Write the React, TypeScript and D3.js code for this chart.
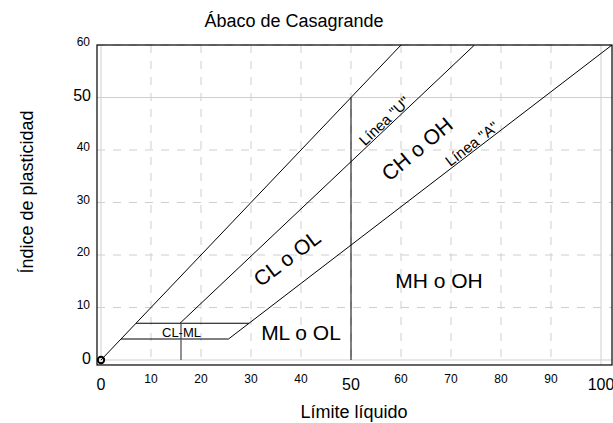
import * as d3 from "d3";

// ticks and grid
const xTicks = [0, 10, 20, 30, 40, 50, 60, 70, 80, 90, 100];
const yTicks = [0, 10, 20, 30, 40, 50, 60];
const bigX = [0, 50, 100];
const bigY = [0, 50];
const solidX = [0, 100];
const solidY = [0, 50];

// boundary lines of the chart (liquid limit, plasticity index)
const lineLeft: [number, number][] = [[0, 0], [60, 60]];
const lineU: [number, number][] = [[15.8, 7], [74.7, 60]];
const lineA: [number, number][] = [[25.5, 4], [102.2, 60]];
const line50: [number, number][] = [[50, 0], [50, 50]];
const clml7: [number, number][] = [[7, 7], [29.6, 7]];
const clml4: [number, number][] = [[4, 4], [25.5, 4]];
const line16: [number, number][] = [[16, 0], [16, 7]];

// zone labels: text, LL, PI, angle, size, sits on line?
const labels: [string, number, number, number, number, boolean][] = [
  ['Línea "U"', 57.6, 44.6, -43.4, 15, true],
  ['Línea "A"', 75, 40.15, -37.5, 15, true],
  ["CH o OH", 63.2, 40.2, -40, 21, false],
  ["CL o OL", 37.2, 19.4, -37, 21, false],
  ["MH o OH", 67.6, 15.2, 0, 21, false],
  ["ML o OL", 40, 5.3, 0, 21, false],
  ["CL-ML", 16.1, 5.33, 0, 13, false],
];

export default function App() {
  const x = d3.scaleLinear().domain([0, 100]).range([101, 601]);
  const y = d3.scaleLinear().domain([0, 60]).range([360, 45]);
  const line = d3
    .line<[number, number]>()
    .x((d) => x(d[0]))
    .y((d) => y(d[1]));

  const left = x(-0.8);
  const right = x(102.2);
  const top = y(60);
  const bottom = y(-0.95);
  const font = "'Liberation Sans', Arial, sans-serif";

  return (
    <svg
      width={613}
      height={423}
      style={{ position: "absolute", left: 0, top: 0, background: "#fff" }}
      fontFamily={font}
    >
      <defs>
        <clipPath id="plot">
          <rect x={left} y={top} width={right - left} height={bottom - top} />
        </clipPath>
      </defs>

      {/* grid */}
      {xTicks.map((t) => (
        <line
          key={"gx" + t}
          x1={x(t)}
          x2={x(t)}
          y1={top}
          y2={bottom}
          stroke="#cfcfcf"
          strokeWidth={1}
          strokeDasharray={solidX.includes(t) ? undefined : "8,8"}
        />
      ))}
      {yTicks.map((t) => (
        <line
          key={"gy" + t}
          x1={left}
          x2={right}
          y1={y(t)}
          y2={y(t)}
          stroke="#cfcfcf"
          strokeWidth={1}
          strokeDasharray={solidY.includes(t) ? undefined : "8,8"}
        />
      ))}

      {/* chart lines */}
      <g clipPath="url(#plot)" fill="none" stroke="#000" strokeWidth={1}>
        <path d={line(lineLeft) ?? ""} />
        <path d={line(lineU) ?? ""} />
        <path d={line(lineA) ?? ""} />
        <path d={line(line50) ?? ""} />
        <path d={line(clml7) ?? ""} />
        <path d={line(clml4) ?? ""} />
        <path d={line(line16) ?? ""} stroke="#555" strokeWidth={1.3} />
      </g>
      <circle cx={x(0)} cy={y(0)} r={3.2} fill="none" stroke="#000" strokeWidth={2} />

      {/* frame */}
      <rect
        x={left}
        y={top}
        width={right - left}
        height={bottom - top}
        fill="none"
        stroke="#000"
        strokeWidth={1.2}
      />

      {/* zone labels */}
      {labels.map(([txt, lx, ly, ang, size, onLine]) => (
        <text
          key={txt}
          transform={`translate(${x(lx)},${y(ly)}) rotate(${ang})`}
          textAnchor="middle"
          dominantBaseline={onLine ? undefined : "central"}
          dy={onLine ? -1.5 : 0}
          fontSize={size}
          fill="#000"
        >
          {txt}
        </text>
      ))}

      {/* x tick labels */}
      {xTicks.map((t) => {
        const big = bigX.includes(t);
        return (
          <text
            key={"xl" + t}
            x={x(t)}
            y={big ? 390 : 383}
            textAnchor="middle"
            fontSize={big ? 16 : 12}
            fill="#000"
          >
            {t}
          </text>
        );
      })}

      {/* y tick labels */}
      {yTicks.map((t) => {
        const big = bigY.includes(t);
        return (
          <text
            key={"yl" + t}
            x={big ? 91 : 90}
            y={y(t) + (big ? 3.5 : 1)}
            textAnchor="end"
            fontSize={big ? 16 : 12}
            fill="#000"
          >
            {t}
          </text>
        );
      })}

      {/* titles */}
      <text x={294} y={27} textAnchor="middle" fontSize={18} fill="#000">
        Ábaco de Casagrande
      </text>
      <text x={354} y={418} textAnchor="middle" fontSize={18} fill="#000">
        Límite líquido
      </text>
      <text
        transform="translate(33,192) rotate(-90)"
        textAnchor="middle"
        fontSize={18}
        fill="#000"
      >
        Índice de plasticidad
      </text>
    </svg>
  );
}
